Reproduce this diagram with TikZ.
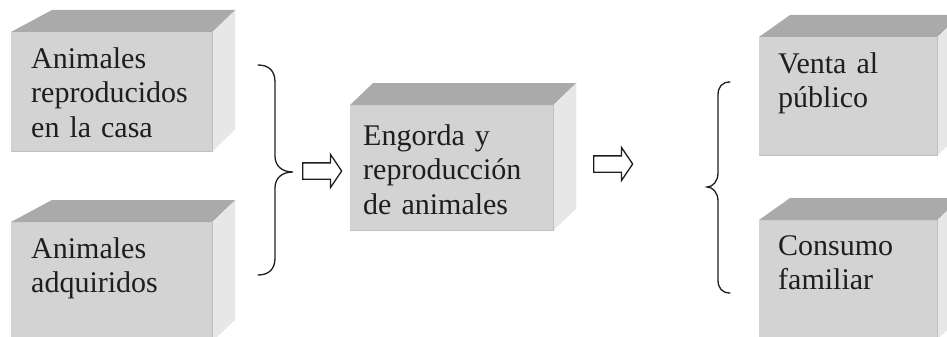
\documentclass[tikz,border=0pt]{standalone}
\usepackage{fontspec}
\setmainfont{Liberation Serif}
\usetikzlibrary{positioning,shapes.arrows}

\definecolor{frenteC}{RGB}{211,211,211}
\definecolor{techoC}{RGB}{170,170,170}
\definecolor{ladoC}{RGB}{231,231,231}
\definecolor{tinta}{RGB}{30,30,30}

\tikzset{
  frente/.style={fill=frenteC, anchor=north west, inner ysep=0pt, align=left,
    text=tinta, font=\fontsize{30}{34.5}\selectfont},
  techo/.style={fill=techoC},
  lado/.style={fill=ladoC},
  borde/.style={draw=black!25, line width=0.7pt},
  llave/.style={draw=tinta, line width=1.3pt, line cap=round},
  flecha/.style={single arrow, draw=tinta, fill=white, line width=1.3pt,
    inner xsep=0pt, inner ysep=7.5pt, minimum height=39pt,
    single arrow head extend=8.5pt, single arrow tip angle=112, anchor=west}
}

\begin{document}
\begin{tikzpicture}[x=1pt, y=-1pt]
  %----- marco de la figura -----
  \clip (0,0) rectangle (947,337);

  %----- caras frontales (con el texto) -----
  \node[frente, inner xsep=20pt, text width=161pt, text height=36pt, text depth=83pt]
    (repro) at (11,32) {Animales\\reproducidos\\en la casa};
  \node[frente, inner xsep=20pt, text width=161pt, text height=36pt, text depth=83pt]
    (adq) at (11,222) {Animales\\adquiridos};
  \node[frente, inner xsep=13pt, text width=177pt, text height=40pt, text depth=85pt]
    (engorda) at (350,105) {Engorda y\\reproducción\\de animales};
  \node[frente, inner xsep=19pt, text width=140pt, text height=36pt, text depth=82pt]
    (venta) at (759,37) {Venta al\\público};
  \node[frente, inner xsep=19pt, text width=140pt, text height=35pt, text depth=84pt]
    (consumo) at (759,220) {Consumo\\familiar};

  %----- techo y lado de cada caja (\dl = corrimiento del borde izquierdo) -----
  \foreach \n/\dl in {repro/41, adq/41, engorda/23, venta/31, consumo/31} {
    \fill[techo] (\n.north west) -- (\n.north east)
      -- ([shift={(23,-22)}]\n.north east) -- ([shift={(\dl,-22)}]\n.north west) -- cycle;
    \fill[lado] (\n.north east) -- ([shift={(23,-22)}]\n.north east)
      -- ([shift={(23,-22)}]\n.south east) -- (\n.south east) -- cycle;
    \draw[borde] (\n.south west) -- (\n.south east) -- (\n.north east);
  }

  %----- llaves -----
  % llave que junta las dos entradas
  \draw[llave] (258,65) .. controls (269,65) and (275,71) .. (275,82) -- (275,156)
    .. controls (275,166) and (282,172) .. (293,172)
    .. controls (282,172) and (275,178) .. (275,188) -- (275,258)
    .. controls (275,269) and (269,275) .. (258,275);
  % llave que abre las dos salidas
  \draw[llave] (730,82) .. controls (722,82) and (718,87) .. (718,95) -- (718,173)
    .. controls (718,181) and (713,187) .. (707,187)
    .. controls (713,187) and (718,193) .. (718,201) -- (718,280)
    .. controls (718,288) and (722,293) .. (730,293);

  %----- flechas huecas -----
  \node[flecha] (entra) at (302,171) {};
  \node[flecha] (sale) at (593,164) {};
\end{tikzpicture}
\end{document}
